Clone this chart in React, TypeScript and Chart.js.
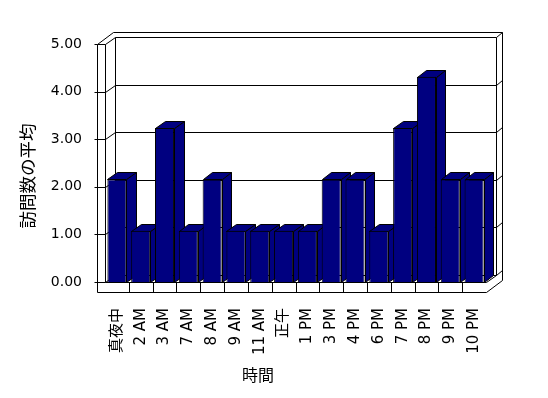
import React, { useEffect, useRef } from "react";
import { Chart, registerables } from "chart.js";

Chart.register(...registerables);

const categories: string[] = [
  "真夜中", "2 AM", "3 AM", "7 AM", "8 AM", "9 AM", "11 AM", "正午",
  "1 PM", "3 PM", "4 PM", "6 PM", "7 PM", "8 PM", "9 PM", "10 PM",
];
const averageVisits: number[] = [2, 1, 3, 1, 2, 1, 1, 1, 1, 2, 2, 1, 3, 4, 2, 2];
const yTickValues: number[] = [0, 1, 2, 3, 4, 5];
const xTitle = "時間";
const yTitle = "訪問数の平均";

const BAR_COLOR = "#000080";
const DX = 9.5;
const DY = -7;
const WX = 6;
const WY = -5;
const LW = 8;
const FH = 10;
const FONT = '"DejaVu Sans", "Noto Sans CJK JP", sans-serif';

const px = (v: number) => Math.round(v) + 0.5;

const framePlugin = {
  id: "frame3d",
  beforeDatasetsDraw(chart: any) {
    const ctx = chart.ctx as CanvasRenderingContext2D;
    const { left: L, right: R, top: T, bottom: B } = chart.chartArea;
    const yS = chart.scales.y;
    ctx.save();
    ctx.strokeStyle = "#000";
    ctx.lineWidth = 1;
    const line = (pts: number[][]) => {
      ctx.beginPath();
      pts.forEach((p, i) => {
        if (i === 0) ctx.moveTo(px(p[0]), px(p[1]));
        else ctx.lineTo(px(p[0]), px(p[1]));
      });
      ctx.stroke();
    };
    // outer outline
    line([
      [L - LW, B + FH],
      [L - LW, T],
      [L - LW + DX + WX, T + DY + WY],
      [R + DX + WX, T + DY + WY],
      [R + DX + WX, B + FH + DY + WY],
      [R, B + FH],
      [L - LW, B + FH],
    ]);
    // inner box
    line([[L, B], [L, T], [L + DX, T + DY], [R + DX, T + DY], [R + DX, B + DY], [R, B], [L, B]]);
    line([[L + DX, T + DY], [L + DX, B + DY], [R + DX, B + DY]]);
    line([[L + DX, B + DY], [L, B]]);
    line([[L - LW, T], [L, T]]);
    line([[L - LW, B], [L, B]]);
    line([[R + DX, T + DY], [R + DX + WX, T + DY + WY]]);
    line([[R + DX, B + DY], [R + DX + WX, B + DY + WY]]);
    // floor front dividers
    const xs = chart.scales.x;
    for (let i = 1; i < categories.length; i++) {
      const xb = (xs.getPixelForValue(i - 1) + xs.getPixelForValue(i)) / 2;
      line([[xb, B], [xb, B + FH]]);
    }
    // gridlines and ticks
    yTickValues.forEach((v) => {
      const yf = yS.getPixelForValue(v);
      line([[L - LW - 3, yf], [L - LW, yf]]);
      if (v > yTickValues[0] && v < yTickValues[yTickValues.length - 1]) {
        line([[L - LW, yf], [L, yf], [L + DX, yf + DY], [R + DX, yf + DY], [R + DX + WX, yf + DY + WY]]);
      }
    });
    // bar sides and tops
    const meta = chart.getDatasetMeta(0);
    meta.data.forEach((el: any) => {
      const { x, y, base, width } = el.getProps(["x", "y", "base", "width"], true);
      const x1 = x - width / 2;
      const x2 = x + width / 2;
      ctx.fillStyle = BAR_COLOR;
      const poly = (pts: number[][]) => {
        ctx.beginPath();
        pts.forEach((p, i) => {
          if (i === 0) ctx.moveTo(px(p[0]), px(p[1]));
          else ctx.lineTo(px(p[0]), px(p[1]));
        });
        ctx.closePath();
        ctx.fill();
        ctx.stroke();
      };
      poly([[x2, y], [x2 + DX, y + DY], [x2 + DX, base + DY], [x2, base]]);
      poly([[x1, y], [x2, y], [x2 + DX, y + DY], [x1 + DX, y + DY]]);
    });
    ctx.restore();
  },
  afterDraw(chart: any) {
    const ctx = chart.ctx as CanvasRenderingContext2D;
    ctx.save();
    ctx.fillStyle = "#000";
    ctx.font = '16px "Noto Sans CJK JP", sans-serif';
    ctx.textAlign = "center";
    ctx.textBaseline = "middle";
    ctx.fillText(xTitle, 258, 375);
    ctx.font = '17.5px "Noto Sans CJK JP", sans-serif';
    ctx.translate(27, 176);
    ctx.rotate(-Math.PI / 2);
    ctx.fillText(yTitle, 0, 0);
    ctx.restore();
  },
};

export default function App() {
  const ref = useRef<HTMLCanvasElement | null>(null);
  useEffect(() => {
    document.body.style.margin = "0";
    if (!ref.current) return;
    const chart = new Chart(ref.current, {
      type: "bar",
      data: {
        labels: categories,
        datasets: [
          {
            data: averageVisits,
            backgroundColor: BAR_COLOR,
            borderColor: "#000",
            borderWidth: 1,
            barPercentage: 0.8,
            categoryPercentage: 1,
            yAxisID: "yBar",
          },
        ],
      },
      options: {
        responsive: false,
        animation: false,
        devicePixelRatio: 1,
        layout: { padding: { left: 0, top: 44, right: 62, bottom: 0 } },
        plugins: { legend: { display: false }, tooltip: { enabled: false } },
        scales: {
          x: {
            grid: { display: false, drawTicks: false },
            border: { display: false },
            ticks: {
              color: "#000",
              font: { family: FONT, size: 15 },
              minRotation: 90,
              maxRotation: 90,
              padding: 26,
              autoSkip: false,
            },
            afterFit: (s: any) => {
              s.height = 116;
            },
          },
          y: {
            position: "left",
            min: 0,
            max: 5,
            grid: { display: false, drawTicks: false },
            border: { display: false },
            ticks: {
              color: "#000",
              font: { family: FONT, size: 14 },
              stepSize: 1,
              padding: 23,
              callback: (v: any) => Number(v).toFixed(2),
            },
            afterFit: (s: any) => {
              s.width = 105;
            },
          },
          yBar: {
            display: false,
            min: 0,
            max: 4.64,
          },
        },
      },
      plugins: [framePlugin],
    });
    return () => chart.destroy();
  }, []);
  return <canvas ref={ref} width={548} height={398} style={{ display: "block" }} />;
}
